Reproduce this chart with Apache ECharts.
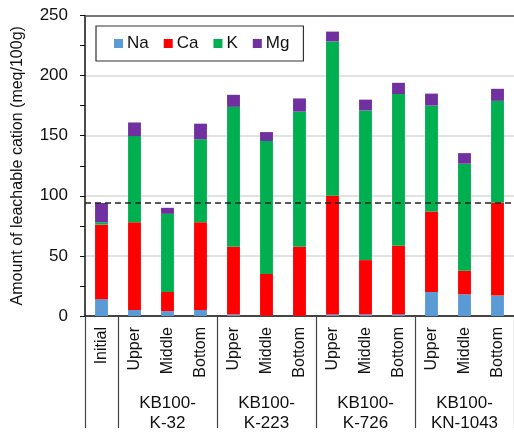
<!DOCTYPE html>
<html>
<head>
<meta charset="utf-8">
<script src="https://cdn.jsdelivr.net/npm/echarts@6/dist/echarts.min.js"></script>
<style>
  html, body { margin: 0; padding: 0; background: #fff; }
  #chart { width: 514px; height: 434px; }
</style>
</head>
<body>
<div id="chart"></div>
<script>
// Sample positions along the x axis
const categories = ['Initial', 'Upper', 'Middle', 'Bottom', 'Upper', 'Middle', 'Bottom',
  'Upper', 'Middle', 'Bottom', 'Upper', 'Middle', 'Bottom'];
// Column groups (label shown under the middle column of each group)
const groupLabels = ['', '', 'KB100-\nK-32', '', '', 'KB100-\nK-223', '', '', 'KB100-\nK-726', '', '', 'KB100-\nKN-1043', ''];
// Column indices where a group separator starts
const groupStarts = [0, 1, 4, 7, 10];

// Leachable cations, meq/100g
const na = [14, 5, 4, 5, 1.2, 0.3, 0.3, 1.3, 1.3, 1.3, 20, 18, 17];
const ca = [62, 73, 16, 73, 56.4, 34.7, 57.3, 98.7, 45.2, 57.2, 67, 19.7, 77.5];
const k  = [2, 71.7, 65, 69, 116.4, 110.6, 112.4, 128.4, 124.5, 126.2, 88, 89, 84.5];
const mg = [16, 11.3, 5, 13, 10, 7.4, 11, 8.2, 9, 9.3, 10, 8.8, 10];

// Level of the initial soil total
const initialLevel = [94];

const yTicks = { min: 0, max: 250, interval: 50 };

const font = 'Liberation Sans, Arial, sans-serif';
const colors = { Na: '#5B9BD5', Ca: '#FF0000', K: '#00B050', Mg: '#7030A0' };

function barSeries(name, data) {
  return {
    name: name,
    type: 'bar',
    stack: 'total',
    barWidth: '39%',
    data: data,
    itemStyle: { color: colors[name] },
    emphasis: { disabled: true }
  };
}

const chart = echarts.init(document.getElementById('chart'), null, { renderer: 'canvas' });

const series = [
  barSeries('Na', na),
  barSeries('Ca', ca),
  barSeries('K', k),
  barSeries('Mg', mg)
];
series[3].markLine = {
  silent: true,
  symbol: 'none',
  label: { show: false },
  lineStyle: { color: '#222', type: [6, 4], width: 1.5 },
  data: initialLevel.map(v => ({ yAxis: v }))
};

chart.setOption({
  animation: false,
  textStyle: { fontFamily: font },
  grid: { left: 85, top: 15.5, width: 435.5, height: 307, containLabel: false },
  legend: {
    left: 96, top: 26,
    padding: [9, 14, 9, 18],
    borderColor: '#333', borderWidth: 1.2,
    itemWidth: 9, itemHeight: 9, itemGap: 15,
    icon: 'rect',
    textStyle: { fontSize: 17, color: '#111', fontFamily: font, padding: [0, 0, 0, -1] },
    data: ['Na', 'Ca', 'K', 'Mg']
  },
  xAxis: [
    {
      type: 'category',
      data: categories,
      position: 'bottom',
      axisLine: { lineStyle: { color: '#111', width: 1.5 } },
      axisTick: {
        show: true,
        length: 112,
        interval: (i) => groupStarts.indexOf(i) >= 0,
        lineStyle: { color: '#444', width: 1.2 }
      },
      axisLabel: {
        rotate: 90, interval: 0, margin: 11,
        fontSize: 16, color: '#111', fontFamily: font
      },
      splitLine: { show: false }
    },
    {
      type: 'category',
      data: groupLabels,
      position: 'bottom',
      axisLine: { show: false },
      axisTick: { show: false },
      axisLabel: {
        interval: 0, margin: 77, fontSize: 17, lineHeight: 20.5,
        color: '#111', fontFamily: font
      }
    },
    {
      type: 'category',
      data: categories,
      position: 'top',
      axisLine: { lineStyle: { color: '#555', width: 1.5 } },
      axisTick: { show: false },
      axisLabel: { show: false }
    }
  ],
  yAxis: {
    type: 'value',
    min: yTicks.min, max: yTicks.max, interval: yTicks.interval,
    name: 'Amount of leachable cation (meq/100g)',
    nameLocation: 'middle',
    nameGap: 59,
    nameTextStyle: { fontSize: 16, color: '#111', fontFamily: font },
    axisLine: { show: true, lineStyle: { color: '#111', width: 1.5 } },
    axisTick: { show: true, length: 5, lineStyle: { color: '#111' } },
    minorTick: { show: true, splitNumber: 2, length: 5, lineStyle: { color: '#111' } },
    axisLabel: { fontSize: 17, color: '#111', margin: 17, fontFamily: font },
    splitLine: { show: true, lineStyle: { color: '#d9d9d9', width: 1.5 } }
  },
  series: series
});
</script>
</body>
</html>
